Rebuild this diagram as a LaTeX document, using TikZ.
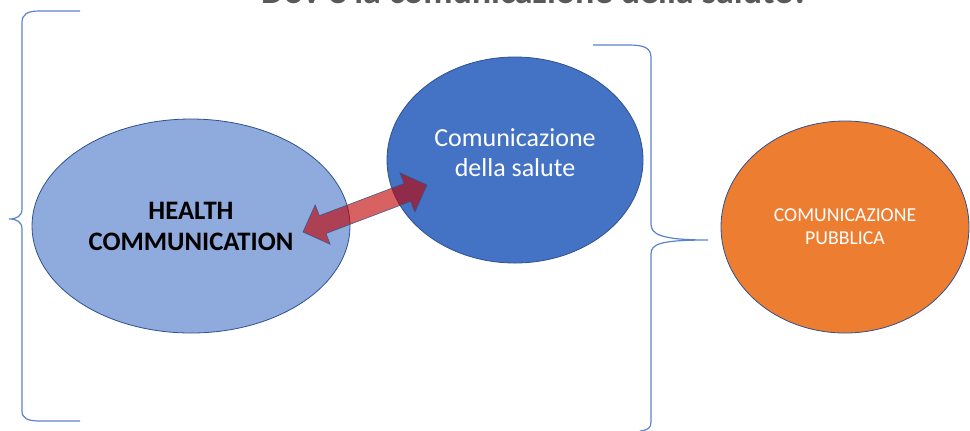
\documentclass[tikz,border=0pt]{standalone}
\usepackage{fontspec}
\setmainfont{Carlito}
\usetikzlibrary{shapes.geometric}
\definecolor{hlblue}{HTML}{8FAADC}
\definecolor{dkblue}{HTML}{4472C4}
\definecolor{outl}{HTML}{2F528F}
\definecolor{orng}{HTML}{ED7D31}
\definecolor{arrred}{HTML}{C00000}
\definecolor{brace}{HTML}{5B82CC}
\definecolor{titlegray}{HTML}{595959}
\tikzset{
  bubble/.style={ellipse, draw=outl, line width=0.6pt, inner sep=0pt, align=center},
  bracestyle/.style={draw=brace, line width=0.9pt},
  arrowshape/.style={fill=arrred, fill opacity=0.62, draw=outl, draw opacity=0.8, line width=0.5pt, line join=miter}
}
\begin{document}
\begin{tikzpicture}[x=0.75pt,y=-0.75pt]
\useasboundingbox (0,0) rectangle (970,430);
\begin{scope}
\clip (0,0) rectangle (970,430);
\node[anchor=base, text=titlegray, font=\fontsize{27}{30}\selectfont\bfseries] (title) at (535,3) {Dov'è la comunicazione della salute?};
\end{scope}
% braces
\draw[bracestyle] (80,11) -- (40,11) .. controls (27,11) and (22,14) .. (22,23) -- (22,209)
  .. controls (22,216) and (17,219) .. (9,219) .. controls (17,219) and (22,222) .. (22,229)
  -- (22,411) .. controls (22,418) and (27,421) .. (40,421) -- (80,421);
\draw[bracestyle] (593,45) -- (628,45) .. controls (645,45) and (651,48) .. (651,58) -- (651,224)
  .. controls (651,234) and (660,240) .. (708,240) .. controls (660,240) and (651,244) .. (651,254)
  -- (651,422) .. controls (651,428) and (648,430) .. (640,431);
% ellipses
\node[bubble, fill=hlblue, minimum width=238.5pt, minimum height=160.5pt,
  font=\fontsize{20}{23.2}\selectfont\bfseries] (health) at (191,226) {HEALTH\\COMMUNICATION};
\node[bubble, fill=dkblue, text=white, minimum width=192pt, minimum height=154.5pt,
  font=\fontsize{19.5}{22.5}\selectfont] (salute) at (515,160) {Comunicazione\\della salute\\[-12pt]\mbox{}};
\node[bubble, fill=orng, text=white, minimum width=186pt, minimum height=159pt,
  font=\fontsize{14.8}{17.3}\selectfont] (pubblica) at (845,227) {COMUNICAZIONE\\PUBBLICA};
% double arrow between the two ellipses
\coordinate (tl) at (303,232);
\coordinate (tr) at (427,185);
\path[arrowshape] (tl) -- (330.08,244.2) -- (326.01,233.44) -- (410.73,201.32) -- (414.8,212.08)
  -- (tr) -- (399.92,172.8) -- (403.99,183.56) -- (319.27,215.68) -- (315.2,204.92) -- cycle;
\end{tikzpicture}
\end{document}
